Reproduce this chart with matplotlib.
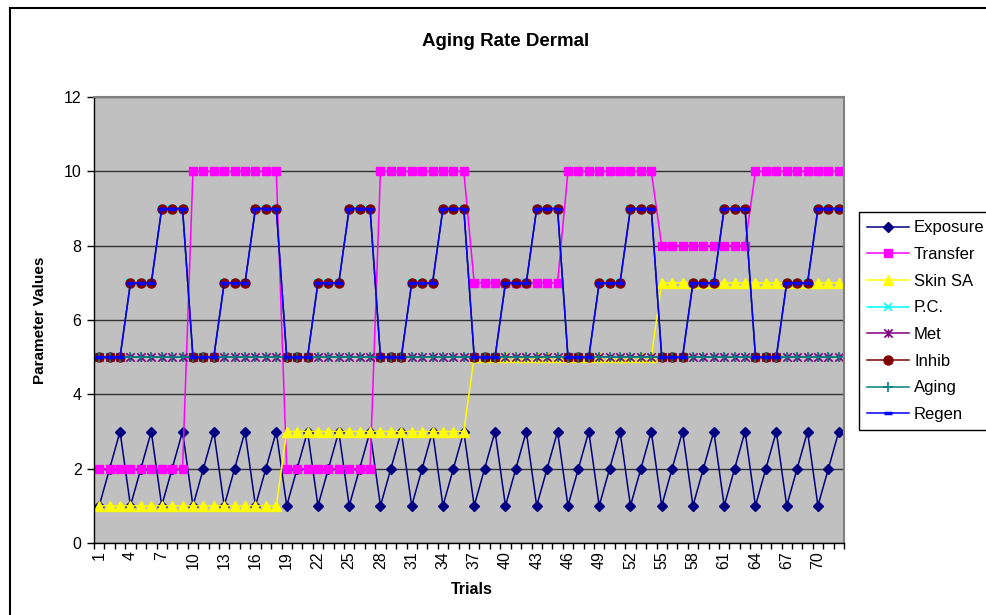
import matplotlib
matplotlib.use("Agg")
import matplotlib.pyplot as plt
from matplotlib.lines import Line2D
from matplotlib.path import Path

plt.rcParams['font.family'] = ['Liberation Sans', 'DejaVu Sans']

# Data: 72 trials
trials = list(range(1, 73))
exposure = [1, 2, 3, 1, 2, 3, 1, 2, 3, 1, 2, 3, 1, 2, 3, 1, 2, 3,
            1, 2, 3, 1, 2, 3, 1, 2, 3, 1, 2, 3, 1, 2, 3, 1, 2, 3,
            1, 2, 3, 1, 2, 3, 1, 2, 3, 1, 2, 3, 1, 2, 3, 1, 2, 3,
            1, 2, 3, 1, 2, 3, 1, 2, 3, 1, 2, 3, 1, 2, 3, 1, 2, 3]
transfer = [2, 2, 2, 2, 2, 2, 2, 2, 2, 10, 10, 10, 10, 10, 10, 10, 10, 10,
            2, 2, 2, 2, 2, 2, 2, 2, 2, 10, 10, 10, 10, 10, 10, 10, 10, 10,
            7, 7, 7, 7, 7, 7, 7, 7, 7, 10, 10, 10, 10, 10, 10, 10, 10, 10,
            8, 8, 8, 8, 8, 8, 8, 8, 8, 10, 10, 10, 10, 10, 10, 10, 10, 10]
skin_sa = [1, 1, 1, 1, 1, 1, 1, 1, 1, 1, 1, 1, 1, 1, 1, 1, 1, 1,
           3, 3, 3, 3, 3, 3, 3, 3, 3, 3, 3, 3, 3, 3, 3, 3, 3, 3,
           5, 5, 5, 5, 5, 5, 5, 5, 5, 5, 5, 5, 5, 5, 5, 5, 5, 5,
           7, 7, 7, 7, 7, 7, 7, 7, 7, 7, 7, 7, 7, 7, 7, 7, 7, 7]
pc = [5, 5, 5, 7, 7, 7, 9, 9, 9, 5, 5, 5, 7, 7, 7, 9, 9, 9,
      5, 5, 5, 7, 7, 7, 9, 9, 9, 5, 5, 5, 7, 7, 7, 9, 9, 9,
      5, 5, 5, 7, 7, 7, 9, 9, 9, 5, 5, 5, 7, 7, 7, 9, 9, 9,
      5, 5, 5, 7, 7, 7, 9, 9, 9, 5, 5, 5, 7, 7, 7, 9, 9, 9]
met = [5] * 72
inhib = [5, 5, 5, 7, 7, 7, 9, 9, 9, 5, 5, 5, 7, 7, 7, 9, 9, 9,
         5, 5, 5, 7, 7, 7, 9, 9, 9, 5, 5, 5, 7, 7, 7, 9, 9, 9,
         5, 5, 5, 7, 7, 7, 9, 9, 9, 5, 5, 5, 7, 7, 7, 9, 9, 9,
         5, 5, 5, 7, 7, 7, 9, 9, 9, 5, 5, 5, 7, 7, 7, 9, 9, 9]
aging = [5] * 72
regen = [5, 5, 5, 7, 7, 7, 9, 9, 9, 5, 5, 5, 7, 7, 7, 9, 9, 9,
         5, 5, 5, 7, 7, 7, 9, 9, 9, 5, 5, 5, 7, 7, 7, 9, 9, 9,
         5, 5, 5, 7, 7, 7, 9, 9, 9, 5, 5, 5, 7, 7, 7, 9, 9, 9,
         5, 5, 5, 7, 7, 7, 9, 9, 9, 5, 5, 5, 7, 7, 7, 9, 9, 9]

W, H = 986, 615
fig = plt.figure(figsize=(W / 100, H / 100), dpi=100)
fig.patch.set_facecolor('white')

# chart border (left and top visible)
fig.add_artist(Line2D([10 / W, 10 / W], [0, 1 - 8 / H], color='black', lw=1.5))
fig.add_artist(Line2D([10 / W, 1], [1 - 8 / H, 1 - 8 / H], color='black', lw=1.5))

ax = fig.add_axes([94 / W, 1 - 543 / H, (844 - 94) / W, (543 - 97) / H])
ax.set_facecolor('#C0C0C0')

star = Path([(-1, -1), (1, 1), (-1, 1), (1, -1), (0, -1), (0, 1)],
            [Path.MOVETO, Path.LINETO, Path.MOVETO, Path.LINETO, Path.MOVETO, Path.LINETO])

series = [
    ('Exposure', exposure, '#000080', dict(marker='D', ms=5.5)),
    ('Transfer', transfer, '#FF00FF', dict(marker='s', ms=6)),
    ('Skin SA', skin_sa, '#FFFF00', dict(marker='^', ms=7)),
    ('P.C.', pc, '#00FFFF', dict(marker='x', ms=6, mew=1.2)),
    ('Met', met, '#800080', dict(marker=star, ms=6, mew=1.2)),
    ('Inhib', inhib, '#800000', dict(marker='o', ms=6.5)),
    ('Aging', aging, '#008080', dict(marker='+', ms=7, mew=1.2)),
    ('Regen', regen, '#0000FF', dict(marker='_', ms=6, mew=2.5)),
]
for name, vals, col, mk in series:
    ax.plot(trials, vals, color=col, lw=1.1, label=name,
            markerfacecolor=col, markeredgecolor=col, **mk)

ax.set_xlim(0.5, 72.5)
ax.set_ylim(0, 12)
ax.set_yticks([0, 2, 4, 6, 8, 10, 12])
ax.yaxis.grid(True, color='#333333', lw=1)
ax.set_axisbelow(True)

ax.set_xticks(trials[::3])
ax.set_xticklabels([str(t) for t in trials[::3]], rotation=90)
ax.set_xticks([t - 0.5 for t in trials] + [72.5], minor=True)
ax.tick_params(axis='x', which='major', length=0, labelsize=11.5, pad=6)
ax.tick_params(axis='x', which='minor', length=4, width=1, color='black')
ax.tick_params(axis='y', length=5, width=1, labelsize=11.5, pad=4)

for s in ['top', 'right']:
    ax.spines[s].set_color('#808080')
    ax.spines[s].set_linewidth(1.5)
for s in ['left', 'bottom']:
    ax.spines[s].set_color('black')
    ax.spines[s].set_linewidth(1)

fig.text(506 / W, 1 - 42 / H, 'Aging Rate Dermal', ha='center', va='center',
         fontsize=13.5, fontweight='bold')
fig.text(472 / W, 1 - 590 / H, 'Trials', ha='center', va='center',
         fontsize=11.5, fontweight='bold')
fig.text(40 / W, 1 - 320 / H, 'Parameter Values', ha='center', va='center',
         rotation=90, fontsize=11, fontweight='bold')

leg = ax.legend(loc='upper left', bbox_to_anchor=(859 / W, 1 - 212 / H),
                bbox_transform=fig.transFigure, fontsize=12, frameon=True,
                fancybox=False, edgecolor='black', framealpha=1,
                handlelength=2.5, labelspacing=0.7, borderpad=0.5,
                handletextpad=0.3, borderaxespad=0)
leg.get_frame().set_linewidth(1)

plt.savefig('out.png', dpi=100)
